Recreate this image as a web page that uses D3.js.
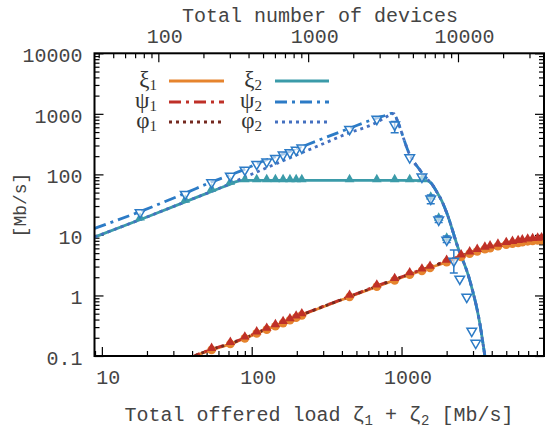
<!DOCTYPE html>
<html>
<head>
<meta charset="utf-8">
<script src="https://cdn.jsdelivr.net/npm/d3@7"></script>
<style>
body { margin: 0; background: #fff; }
</style>
</head>
<body>
<div id="chart"></div>
<script>
// ---- data (load [Mb/s], value [Mb/s]) ----
var xi1Line = [[38,0.088],[42,0.1],[54,0.126],[72,0.158],[90,0.196],[108,0.236],[162,0.352],[224,0.49],[452,0.95],[684,1.40],[1026,2.02],[1500,2.8],[1995,3.55],[2851,4.9],[4000,6.1],[5546,7.2],[7000,7.85],[8930,8.2]];
var psi1Line = [[38,0.09],[42,0.102],[54,0.129],[72,0.162],[90,0.2],[108,0.242],[162,0.36],[224,0.5],[452,0.97],[684,1.44],[1026,2.08],[1500,2.9],[1995,3.7],[2851,5.15],[4000,6.45],[5546,7.6],[7000,8.3],[8930,8.75]];
var phi1Line = [[38,0.089],[42,0.101],[54,0.128],[72,0.16],[90,0.198],[108,0.24],[162,0.357],[224,0.495],[452,0.96],[684,1.42],[1026,2.05],[1500,2.85],[1995,3.65],[2851,5.05],[4000,6.3],[5546,7.45],[7000,8.1],[8930,8.55]];

var xi2Line = [[8.93,9.2],[20,19.8],[40,39],[60,58],[72,69],[79,76],[90,79.5],[200,79.5],[1000,79.5],[1468,79],[1592,69.7],[1719,51.4],[1856,36.5],[2005,23.1],[2373,6.33],[2851,1.8],[3327,0.351],[3591,0.104],[3760,0.0485]];
var psi2Line = [[8.93,12.8],[18,24.3],[36,48.9],[54,75],[72,98],[90,122],[108,150],[163,218],[300,393],[452,580],[681,849],[800,960],[858,1020],[890,1010],[916,891],[945,738],[1135,210],[1324,119],[1468,86.5],[1592,69.7],[1719,51.4],[1856,36.5],[2005,23.1],[2373,6.33],[2851,1.8],[3327,0.351],[3591,0.104],[3760,0.0485]];
var phi2Line = [[8.93,9.2],[20,19.8],[40,39],[60,58],[79,78],[150,155],[300,320],[452,490],[615,640],[815,927],[858,1000],[890,1005],[916,891],[945,738],[1135,210],[1324,119],[1468,86.5],[1592,69.7],[1719,51.4],[1856,36.5],[2005,23.1],[2373,6.33],[2851,1.8],[3327,0.351],[3591,0.104],[3760,0.0485]];

// simulation points
var load1 = [54,72,90,108,126,144,162,180,198,216,450,684,900,1134,1368,1550,2000,2500,2850,3200,3600,3900,4400,5000,5500,6000,6400,6950,7500,8100,8600];
var xi1Pts = [0.126,0.158,0.196,0.236,0.272,0.31,0.35,0.39,0.43,0.47,0.95,1.40,1.78,2.2,2.55,2.85,3.55,4.35,4.9,5.35,5.8,6.05,6.5,6.9,7.2,7.4,7.6,7.85,8.0,8.1,8.2];
var psi1Pts = [0.13,0.163,0.2,0.243,0.28,0.32,0.36,0.40,0.445,0.485,0.98,1.45,1.85,2.3,2.65,2.95,3.7,4.55,5.1,5.6,6.1,6.4,6.85,7.3,7.6,7.85,8.05,8.3,8.45,8.6,8.7];

var load2 = [18,36,54,72,90,108,126,144,162,180,198,216,450,684,900,1134,1368,1567,1770,2003,2233,2447,2725,2942,3128];
var xi2Pts = [18.5,36.5,55,72,79,79.5,79.5,79.5,79.5,79.5,79.5,79.5,79.5,79.5,79.5,79.5,79.5,41,18.4,8.6,null,null,null,null,null];
var psi2Pts = [24.3,48.9,76,98,123,153,168,192,218,238,262,285,580,849,683,197,94.5,40.9,18.4,8.59,3.86,1.95,0.98,0.269,0.17];
var psi2Lo = [null,null,null,null,null,null,null,null,null,null,null,null,null,null,485,null,null,32.6,16.0,7.5,2.35,null,null,null,null];
var psi2Hi = [null,null,null,null,null,null,null,null,null,null,null,null,null,null,746,null,null,45.6,20.6,9.6,5.65,null,null,null,null];

var xTicks = [10, 100, 1000];
var topTicks = [100, 1000, 10000];
var yTicks = [0.1, 1, 10, 100, 1000, 10000];

var colors = {
  xi1: "#e6842e", psi1: "#bf3028", phi1: "#74291f",
  xi2: "#3b9ba9", psi2: "#2c7bc6", phi2: "#4470c0"
};
var textCol = "#444";

// ---- layout ----
var W = 545, H = 430;
var L = 94.5, R = 544, T = 53.3, B = 356;
var mono = "'Liberation Mono', 'Courier New', monospace";

var svg = d3.select("#chart").append("svg")
  .attr("width", W).attr("height", H)
  .style("font-family", mono);

var x = d3.scaleLog().domain([8.93, 8930]).range([L, R]);
var xTop = d3.scaleLog().domain([37.5, 37500]).range([L, R]);
var y = d3.scaleLog().domain([0.1, 10000]).range([B, T]);

function minorOf(scale) {
  return scale.ticks().filter(function(v) {
    var e = Math.log10(v);
    return Math.abs(e - Math.round(e)) > 1e-6;
  });
}

function styleAxis(g) {
  g.select(".domain").remove();
  g.selectAll(".tick line").attr("stroke", "#000").attr("stroke-width", 1.2);
  g.selectAll(".tick text").attr("fill", textCol).style("font-size", "20px").style("font-family", mono);
}

// bottom
svg.append("g").attr("transform", "translate(0," + B + ")")
  .call(d3.axisBottom(x).tickValues(minorOf(x)).tickSize(-5).tickFormat(""))
  .call(styleAxis);
svg.append("g").attr("transform", "translate(0," + B + ")")
  .call(d3.axisBottom(x).tickValues(xTicks).tickSize(-9).tickPadding(14).tickFormat(d3.format("d")))
  .call(styleAxis)
  .selectAll(".tick text").attr("dx", 6);

// top
svg.append("g").attr("transform", "translate(0," + T + ")")
  .call(d3.axisTop(xTop).tickValues(minorOf(xTop)).tickSize(-5).tickFormat(""))
  .call(styleAxis);
svg.append("g").attr("transform", "translate(0," + T + ")")
  .call(d3.axisTop(xTop).tickValues(topTicks).tickSize(-9).tickPadding(10).tickFormat(d3.format("d")))
  .call(styleAxis)
  .selectAll(".tick text").attr("dx", 6);

// left
svg.append("g").attr("transform", "translate(" + L + ",0)")
  .call(d3.axisLeft(y).tickValues(minorOf(y)).tickSize(-5).tickFormat(""))
  .call(styleAxis);
svg.append("g").attr("transform", "translate(" + L + ",0)")
  .call(d3.axisLeft(y).tickValues(yTicks).tickSize(-9).tickPadding(12)
    .tickFormat(function(d) { return d < 1 ? "0.1" : d3.format("d")(d); }))
  .call(styleAxis)
  .selectAll(".tick text").attr("dy", "0.42em");

// right
svg.append("g").attr("transform", "translate(" + R + ",0)")
  .call(d3.axisRight(y).tickValues(minorOf(y)).tickSize(-5).tickFormat(""))
  .call(styleAxis);
svg.append("g").attr("transform", "translate(" + R + ",0)")
  .call(d3.axisRight(y).tickValues(yTicks).tickSize(-9).tickFormat(""))
  .call(styleAxis);

// clip
svg.append("clipPath").attr("id", "clip")
  .append("rect").attr("x", L).attr("y", T).attr("width", R - L).attr("height", B - T);
var plot = svg.append("g").attr("clip-path", "url(#clip)");

var line = d3.line()
  .x(function(d) { return x(d[0]); })
  .y(function(d) { return y(d[1]); })
  .curve(d3.curveMonotoneX);

function drawLine(data, color, dash) {
  plot.append("path").datum(data)
    .attr("d", line)
    .attr("fill", "none")
    .attr("stroke", color)
    .attr("stroke-width", 2.8)
    .attr("stroke-dasharray", dash || null);
}

var dashDot = "12,5,3,5", dotted = "3,4";

drawLine(xi2Line, colors.xi2);
drawLine(psi2Line, colors.psi2, dashDot);
drawLine(phi2Line, colors.phi2, dotted);
drawLine(xi1Line, colors.xi1);
drawLine(psi1Line, colors.psi1, dashDot);
drawLine(phi1Line, colors.phi1, dotted);

// markers
var triUp = d3.symbol().type(d3.symbolTriangle).size(40);
var circ = d3.symbol().type(d3.symbolCircle).size(60);

load1.forEach(function(l, i) {
  plot.append("path").attr("d", circ())
    .attr("transform", "translate(" + x(l) + "," + y(xi1Pts[i]) + ")")
    .attr("fill", colors.xi1);
});
load1.forEach(function(l, i) {
  plot.append("path").attr("d", triUp())
    .attr("transform", "translate(" + x(l) + "," + (y(psi1Pts[i]) - 1) + ")")
    .attr("fill", colors.psi1);
});

load2.forEach(function(l, i) {
  if (xi2Pts[i] === null) return;
  plot.append("path").attr("d", triUp())
    .attr("transform", "translate(" + x(l) + "," + (y(xi2Pts[i]) - 1) + ")")
    .attr("fill", colors.xi2);
});
load2.forEach(function(l, i) {
  var cx = x(l);
  if (psi2Lo[i] !== null) {
    var y0 = y(psi2Lo[i]), y1 = y(psi2Hi[i]);
    plot.append("path")
      .attr("d", "M" + cx + "," + y0 + "V" + y1 +
        "M" + (cx - 4) + "," + y0 + "H" + (cx + 4) +
        "M" + (cx - 4) + "," + y1 + "H" + (cx + 4))
      .attr("stroke", colors.psi2).attr("stroke-width", 1.5).attr("fill", "none");
  }
  plot.append("path").attr("d", triUp())
    .attr("transform", "translate(" + cx + "," + (y(psi2Pts[i]) + 1) + ") rotate(180)")
    .attr("fill", "#fff").attr("fill-opacity", 0.6)
    .attr("stroke", colors.psi2).attr("stroke-width", 1.5);
});

// frame
svg.append("rect").attr("x", L).attr("y", T).attr("width", R - L).attr("height", B - T)
  .attr("fill", "none").attr("stroke", "#000").attr("stroke-width", 2);

// titles
svg.append("text").attr("x", 320).attr("y", 22).attr("text-anchor", "middle")
  .attr("fill", textCol).style("font-size", "20px").text("Total number of devices");

var bt = svg.append("text").attr("x", 319).attr("y", 421).attr("text-anchor", "middle")
  .attr("fill", textCol).style("font-size", "20px");
bt.append("tspan").text("Total offered load \u03b6");
bt.append("tspan").attr("dy", 4).style("font-size", "14px").text("1");
bt.append("tspan").attr("dy", -4).text(" + \u03b6");
bt.append("tspan").attr("dy", 4).style("font-size", "14px").text("2");
bt.append("tspan").attr("dy", -4).text(" [Mb/s]");

svg.append("text").attr("transform", "translate(26,205) rotate(-90)")
  .attr("text-anchor", "middle").attr("fill", textCol).style("font-size", "18px")
  .text("[Mb/s]");

// legend
var legendRows = [
  { sym: "\u03be", col: [colors.xi1, colors.xi2], dash: null, y: 81 },
  { sym: "\u03c8", col: [colors.psi1, colors.psi2], dash: dashDot, y: 102 },
  { sym: "\u03c6", col: [colors.phi1, colors.phi2], dash: dotted, y: 122 }
];
var legendCols = [{ tx: 157, x0: 169, x1: 224, sub: "1" }, { tx: 262, x0: 275, x1: 329, sub: "2" }];

legendRows.forEach(function(r) {
  legendCols.forEach(function(c, j) {
    var t = svg.append("text").attr("x", c.tx).attr("y", r.y + 6)
      .attr("text-anchor", "end").attr("fill", "#333")
      .style("font-family", "'Liberation Serif', serif").style("font-size", "23px");
    t.append("tspan").text(r.sym);
    t.append("tspan").attr("dy", 3).style("font-size", "15px").text(c.sub);
    svg.append("line").attr("x1", c.x0).attr("x2", c.x1).attr("y1", r.y).attr("y2", r.y)
      .attr("stroke", r.col[j]).attr("stroke-width", 2.8)
      .attr("stroke-dasharray", r.dash);
  });
});
</script>
</body>
</html>
